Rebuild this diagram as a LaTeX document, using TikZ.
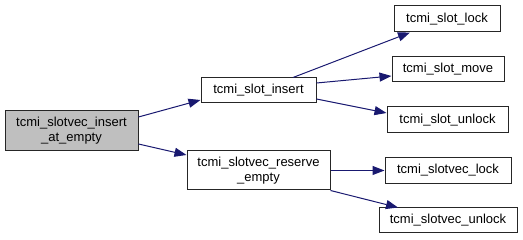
\documentclass[tikz,border=0pt]{standalone}
\usepackage{fontspec}
\setmainfont{Liberation Sans}
\usetikzlibrary{arrows.meta}
\definecolor{edgeblue}{HTML}{191970}
\definecolor{rootfill}{HTML}{BFBFBF}
\begin{document}
\begin{tikzpicture}[x=1pt,y=-1pt,
  fn/.style={draw=black!85,line width=1pt,inner sep=0pt,align=center,
    font=\fontsize{13}{15}\selectfont,fill=white},
  call/.style={draw=edgeblue,line width=1pt,
    -{Triangle[length=12pt,width=9pt]}}]
\useasboundingbox (0,0) rectangle (523,240);
% functions
\node[fn,fill=rootfill,minimum width=133pt,minimum height=40pt] (root) at (71.5,131)
  {tcmi\_slotvec\_insert\\\_at\_empty};
\node[fn,minimum width=115pt,minimum height=25pt] (ins) at (258.5,90.5) {tcmi\_slot\_insert};
\node[fn,minimum width=143pt,minimum height=39pt] (res) at (258.5,170.5)
  {tcmi\_slotvec\_reserve\\\_empty};
\node[fn,minimum width=106pt,minimum height=26pt] (slock) at (447,19) {tcmi\_slot\_lock};
\node[fn,minimum width=112pt,minimum height=25pt] (smove) at (448,69.5) {tcmi\_slot\_move};
\node[fn,minimum width=121pt,minimum height=26pt] (sunlock) at (447.5,120) {tcmi\_slot\_unlock};
\node[fn,minimum width=126pt,minimum height=26pt] (vlock) at (448,170.5) {tcmi\_slotvec\_lock};
\node[fn,minimum width=138pt,minimum height=25pt] (vunlock) at (448,220.5) {tcmi\_slotvec\_unlock};
% calls
\draw[call] ([yshift=14pt]root.east) -- ([yshift=-9.5pt]ins.west);
\draw[call] ([yshift=-13pt]root.east) -- ([yshift=15.5pt]res.west);
\draw[call] ([xshift=34.5pt]ins.north) -- ([xshift=-37pt]slock.south);
\draw[call] ([yshift=7.5pt]ins.east) -- ([yshift=-6.5pt]smove.west);
\draw[call] ([yshift=-8.5pt]ins.east) -- ([yshift=7pt]sunlock.west);
\draw[call] (res.east) -- (vlock.west);
\draw[call] (res.south east) -- ([xshift=-50pt]vunlock.north);
\end{tikzpicture}
\end{document}
